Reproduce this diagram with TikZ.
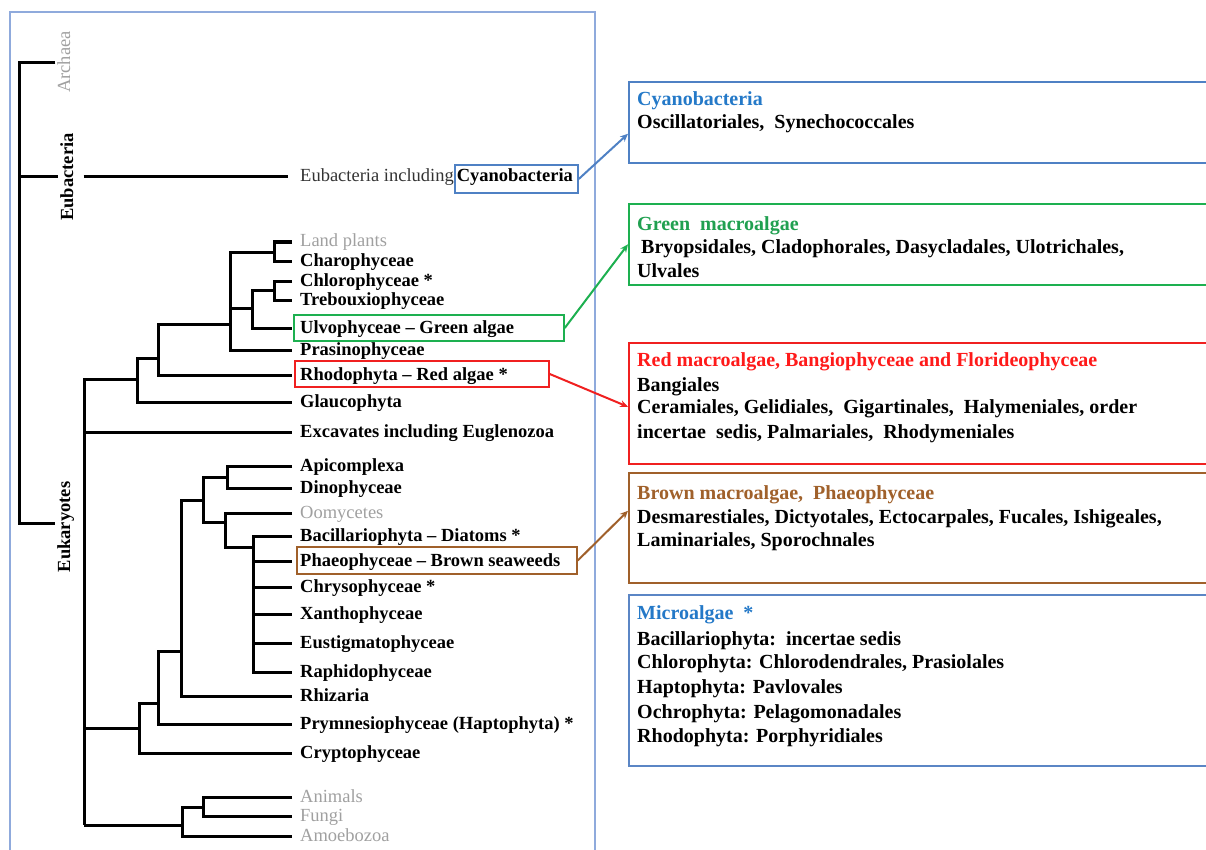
\documentclass[tikz,border=0pt]{standalone}
\usepackage{fontspec}
\setmainfont{Liberation Serif}
\usetikzlibrary{arrows.meta}
\definecolor{frameblue}{HTML}{8FAADC}
\definecolor{cyanbd}{HTML}{4F81C4}
\definecolor{cyantxt}{HTML}{2479C8}
\definecolor{greenbd}{HTML}{1DB050}
\definecolor{greentxt}{HTML}{20A050}
\definecolor{redbd}{HTML}{F02020}
\definecolor{redtxt}{HTML}{FF1A1A}
\definecolor{brownbd}{HTML}{A0602A}
\definecolor{browntxt}{HTML}{A0612B}
\definecolor{microbd}{HTML}{5B86C5}
\definecolor{graytxt}{HTML}{A0A0A0}
\definecolor{darktxt}{HTML}{333333}
\newcommand\treefont{\fontsize{18.5}{22}\selectfont}
\newcommand\boxfont{\fontsize{20}{24}\selectfont}
\begin{document}
\begin{tikzpicture}[x=1pt,y=-1pt,
  br/.style={line width=3pt, black},
  leaf/.style={anchor=west, inner sep=0pt, text height=13pt, text depth=3pt, font=\treefont\bfseries},
  leafgray/.style={leaf, font=\treefont, text=graytxt},
  rotlab/.style={rotate=90, inner sep=1.5pt, text height=13pt, text depth=3pt, font=\treefont\bfseries},
  hl/.style={draw=#1, line width=1.5pt, inner sep=0pt},
  rbox/.style={draw=#1, line width=1.6pt, fill=white, inner sep=0pt, anchor=north west, minimum width=587pt},
  bl/.style={anchor=base west, inner sep=0pt, font=\boxfont\bfseries},
  arr/.style={line width=2pt, -{Stealth[length=8pt,width=7pt]}}
]
\useasboundingbox (0,0) rectangle (1206,850);

% main frame
\draw[frameblue, line width=1.5pt] (10,12) rectangle (595,900);

% ---------- root ----------
\node[rotlab, font=\treefont, text=graytxt] (archlab) at (65,62) {Archaea};
\node[rotlab] (eubl) at (68,177) {Eubacteria};
\node[rotlab] (eukl) at (65,527) {Eukaryotes};
\node[anchor=west, inner sep=0pt, text height=13pt, text depth=3pt, font=\treefont, text=darktxt] (eubtext) at (300,177) {Eubacteria including\kern3pt\textbf{\color{black}Cyanobacteria}};
\coordinate (rA) at (19,63);
\coordinate (rB) at (19,177);
\coordinate (rE) at (19,523);
\draw[br] (rA -| archlab.north) -- (rA) -- (rE) -- (rE -| eukl.north);
\draw[br] (rB) -- (rB -| eubl.north);
\draw[br] ([xshift=6pt]rB -| eubl.south) -- ([xshift=-12pt]eubtext.west);

% ---------- leaves ----------
\node[leafgray] (land) at (300,242) {Land plants};
\node[leaf] (charo) at (300,261) {Charophyceae};
\node[leaf] (chloro) at (300,281) {Chlorophyceae *};
\node[leaf] (trebo) at (300,300) {Trebouxiophyceae};
\node[leaf] (ulvo) at (300,328) {Ulvophyceae -- Green algae};
\node[leaf] (prasino) at (300,350) {Prasinophyceae};
\node[leaf] (rhodo) at (300,375) {Rhodophyta -- Red algae *};
\node[leaf] (glauco) at (300,402) {Glaucophyta};
\node[leaf] (excav) at (300,432) {Excavates including Euglenozoa};
\node[leaf] (apico) at (300,466) {Apicomplexa};
\node[leaf] (dino) at (300,488) {Dinophyceae};
\node[leafgray] (oomy) at (300,513) {Oomycetes};
\node[leaf] (bacil) at (300,536) {Bacillariophyta -- Diatoms *};
\node[leaf] (phaeo) at (300,561) {Phaeophyceae -- Brown seaweeds};
\node[leaf] (chryso) at (300,587) {Chrysophyceae *};
\node[leaf] (xantho) at (300,614) {Xanthophyceae};
\node[leaf] (eustig) at (300,643) {Eustigmatophyceae};
\node[leaf] (raphido) at (300,672) {Raphidophyceae};
\node[leaf] (rhiz) at (300,696) {Rhizaria};
\node[leaf] (prymn) at (300,724) {Prymnesiophyceae (Haptophyta) *};
\node[leaf] (crypto) at (300,753) {Cryptophyceae};
\node[leafgray] (animals) at (300,797) {Animals};
\node[leafgray] (fungi) at (300,816) {Fungi};
\node[leafgray] (amoeb) at (300,836) {Amoebozoa};

\foreach \n in {land,charo,chloro,trebo,ulvo,prasino,rhodo,glauco,excav,apico,dino,oomy,bacil,phaeo,chryso,xantho,eustig,raphido,rhiz,prymn,crypto,animals,fungi,amoeb}
  \coordinate (L\n) at ([xshift=-8pt]\n.west);

% ---------- internal nodes ----------
\coordinate (nLC) at (274,252);
\coordinate (nCT) at (274,290);
\coordinate (nCTU) at (252,308);
\coordinate (nGreen) at (230,324);
\coordinate (nGR) at (158,358);
\coordinate (nArch) at (137,379);
\coordinate (nEukTop) at (84,379);
\coordinate (nEukBot) at (84,825);
\coordinate (nAD) at (227,477);
\coordinate (nBac) at (253,547);
\coordinate (nOB) at (225,522);
\coordinate (nSA) at (203,500);
\coordinate (nSAR) at (181,651);
\coordinate (nSARH) at (158,703);
\coordinate (nSARHC) at (139,728);
\coordinate (nAF) at (203,807);
\coordinate (nOpis) at (182,825);

% Archaeplastida
\draw[br] (Lland) -| (nLC) |- (Lcharo);
\draw[br] (Lchloro) -| (nCT) |- (Ltrebo);
\draw[br] (nCT) -| (nCTU) |- (Lulvo);
\draw[br] (nLC) -| (nGreen) |- (Lprasino);
\draw[br] (nCTU) -- (nCTU -| nGreen);
\draw[br] (nGreen) -| (nGR) |- (Lrhodo);
\draw[br] (nGR) -| (nArch) |- (Lglauco);
\draw[br] (nArch) -- (nEukTop) -- (nEukBot);
\draw[br] (Lexcav -| nEukTop) -- (Lexcav);

% SAR + others
\draw[br] (Lapico) -| (nAD) |- (Ldino);
\draw[br] (Lbacil) -| (nBac) |- (Lraphido);
\foreach \n in {phaeo,chryso,xantho,eustig}
  \draw[br] (L\n -| nBac) -- (L\n);
\draw[br] (Loomy) -| (nOB) |- (nBac);
\draw[br] (nAD) -| (nSA) |- (nOB);
\draw[br] (nSA) -| (nSAR) |- (Lrhiz);
\draw[br] (nSAR) -| (nSARH) |- (Lprymn);
\draw[br] (nSARH) -| (nSARHC) |- (Lcrypto);
\draw[br] (nSARHC) -- (nSARHC -| nEukTop);

% Opisthokonts + Amoebozoa
\draw[br] (Lanimals) -| (nAF) |- (Lfungi);
\draw[br] (nAF) -| (nOpis) |- (Lamoeb);
\draw[br] (nOpis) -- (nEukBot);

% ---------- highlight boxes ----------
\node[hl=cyanbd, minimum width=123pt, minimum height=28pt] (cybox) at (516.5,179) {};
\node[hl=greenbd, minimum width=270pt, minimum height=26pt] (ulvobox) at (429,328) {};
\node[hl=redbd, minimum width=254pt, minimum height=26pt] (rhodobox) at (422,374) {};
\node[hl=brownbd, minimum width=280pt, minimum height=27pt] (phaeobox) at (437,560.5) {};

% ---------- right boxes ----------
\node[rbox=cyanbd, minimum height=81pt] (cyanR) at (628,81) {};
\node[rbox=greenbd, minimum height=81pt] (greenR) at (628,203) {};
\node[rbox=redbd, minimum height=121pt] (redR) at (628,342) {};
\node[rbox=brownbd, minimum height=110pt] (brownR) at (628,472) {};
\node[rbox=microbd, minimum height=171pt] (microR) at (628,594) {};

\node[bl, text=cyantxt] (cy1) at (637,106) {Cyanobacteria};
\node[bl] (cy2) at (637,129) {Oscillatoriales,\ \ Synechococcales};

\node[bl, text=greentxt] (gr1) at (637,230) {Green\ \ macroalgae};
\node[bl] (gr2) at (641,254) {Bryopsidales, Cladophorales, Dasycladales, Ulotrichales,};
\node[bl] (gr3) at (637,277) {Ulvales};

\node[bl, text=redtxt] (rd1) at (637,366) {Red macroalgae, Bangiophyceae and Florideophyceae};
\node[bl] (rd2) at (637,391) {Bangiales};
\node[bl] (rd3) at (637,413) {Ceramiales, Gelidiales,\ \ Gigartinales,\ \ Halymeniales,\ order};
\node[bl] (rd4) at (637,438) {incertae\ \ sedis, Palmariales,\ \ Rhodymeniales};

\node[bl, text=browntxt] (bw1) at (637,499) {Brown macroalgae,\ \ Phaeophyceae};
\node[bl] (bw2) at (637,523) {Desmarestiales, Dictyotales, Ectocarpales, Fucales, Ishigeales,};
\node[bl] (bw3) at (637,546) {Laminariales, Sporochnales};

\node[bl, text=cyantxt] (mi1) at (637,619) {Microalgae\ \ *};
\node[bl] (mi2) at (637,645) {Bacillariophyta:\ \ incertae sedis};
\node[bl] (mi3) at (637,668) {Chlorophyta: Chlorodendrales, Prasiolales};
\node[bl] (mi4) at (637,693) {Haptophyta: Pavlovales};
\node[bl] (mi5) at (637,718) {Ochrophyta: Pelagomonadales};
\node[bl] (mi6) at (637,742) {Rhodophyta: Porphyridiales};

% ---------- arrows ----------
\draw[arr, cyanbd] (cybox.east) -- ([yshift=-11.5pt]cyanR.west);
\draw[arr, greenbd] (ulvobox.east) -- (greenR.west);
\draw[arr, redbd] (rhodobox.east) -- ([yshift=-3.5pt]redR.west);
\draw[arr, brownbd] (phaeobox.east) -- ([yshift=17pt]brownR.west);
\end{tikzpicture}
\end{document}
